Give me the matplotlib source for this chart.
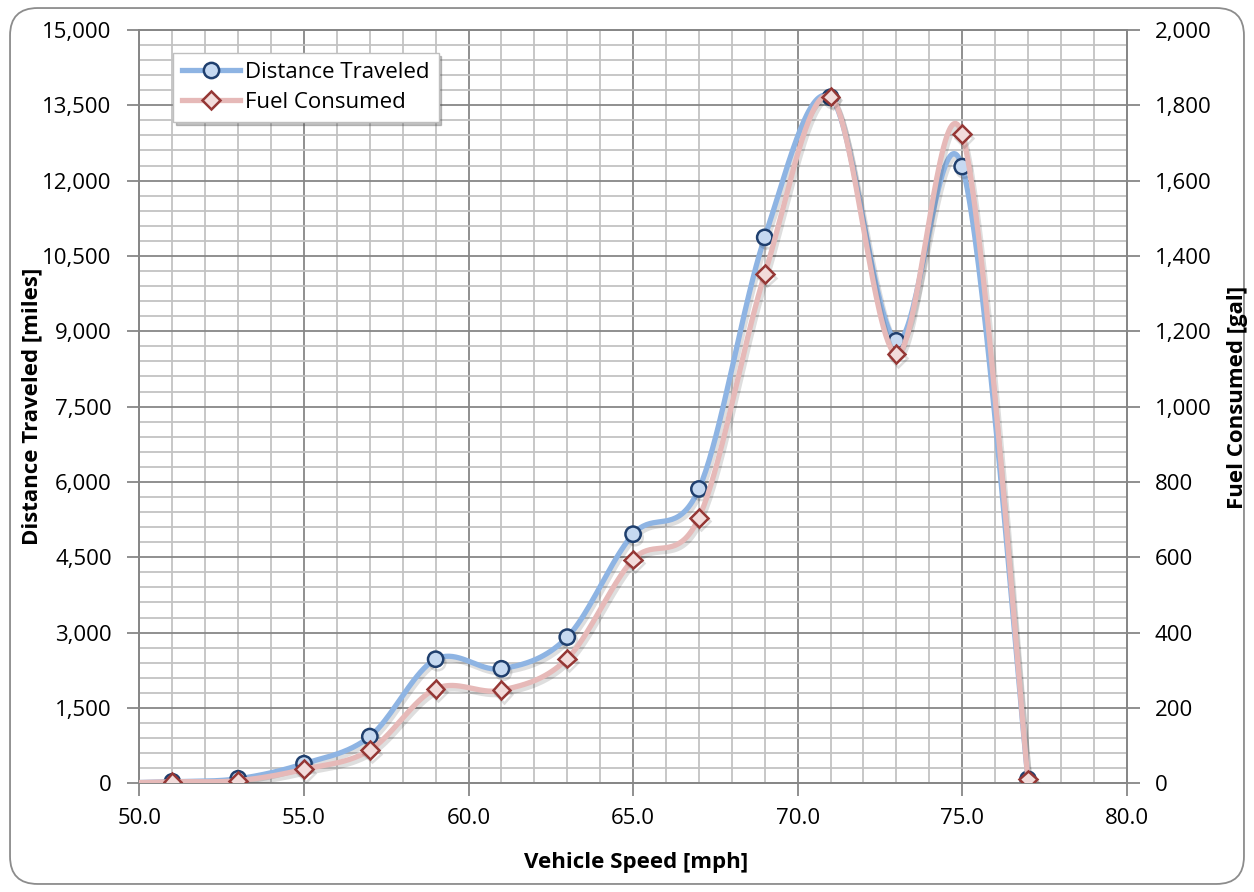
import numpy as np
import matplotlib
matplotlib.use("Agg")
import matplotlib.pyplot as plt
import matplotlib.patheffects as pe
from matplotlib.lines import Line2D
from matplotlib.patches import FancyBboxPatch
from matplotlib.ticker import MultipleLocator, FuncFormatter

plt.rcParams['font.family'] = ['Open Sans', 'DejaVu Sans']

# vehicle speed [mph]; the 49 mph point sits just outside the axis
speed = [49, 51, 53, 55, 57, 59, 61, 63, 65, 67, 69, 71, 73, 75, 77]
distance = [0, 30, 90, 390, 930, 2470, 2280, 2910, 4960, 5860, 10870, 13660, 8810, 12280, 80]
fuel = [0, 4, 7, 37, 88, 251, 247, 331, 594, 705, 1352, 1823, 1139, 1723, 10]

blue_line = '#8EB4E3'
blue_face = '#C6D9F1'
blue_edge = '#1F3F6E'
red_line = '#E6B9B8'
red_face = '#F2DCDB'
red_edge = '#953735'


def smooth(xs, ys, n=40):
    # bezier smoothing in the way Excel does its "smoothed line"
    p = np.column_stack((xs, ys)).astype(float)
    out = []
    t = np.linspace(0, 1, n)[:, None]
    for i in range(len(p) - 1):
        p0 = p[i - 1] if i > 0 else p[i]
        p1 = p[i]
        p2 = p[i + 1]
        p3 = p[i + 2] if i + 2 < len(p) else p[i + 1]
        c1 = p1 + (p2 - p0) / 6
        c2 = p2 - (p3 - p1) / 6
        seg = ((1 - t) ** 3) * p1 + 3 * ((1 - t) ** 2) * t * c1 + 3 * (1 - t) * t ** 2 * c2 + t ** 3 * p2
        out.append(seg if i == 0 else seg[1:])
    out = np.vstack(out)
    return out[:, 0], out[:, 1]


fig = plt.figure(figsize=(12.54, 8.92), dpi=100)
ax = fig.add_axes([0.1112, 0.1219, 0.7873, 0.8445])
ax2 = ax.twinx()

border = FancyBboxPatch((0.008, 0.009), 0.984, 0.982, boxstyle="round,pad=0,rounding_size=0.022",
                        transform=fig.transFigure, facecolor='none', edgecolor='#8C8C8C',
                        linewidth=1.3, mutation_aspect=1.4)
fig.patches.append(border)

shadow = [pe.SimpleLineShadow(offset=(1.5, -2.5), shadow_color='#000000', alpha=0.13), pe.Normal()]

sx, sy = smooth(speed, distance)
ax.plot(sx, sy, color=blue_line, lw=3.8, solid_capstyle='round', path_effects=shadow, zorder=3)
ax.plot(speed, distance, ls='none', marker='o', ms=11, mfc=blue_face, mec=blue_edge, mew=1.8,
        path_effects=shadow, zorder=4)

fx, fy = smooth(speed, fuel)
ax2.plot(fx, fy, color=red_line, lw=3.8, solid_capstyle='round', path_effects=shadow, zorder=3)
ax2.plot(speed, fuel, ls='none', marker='D', ms=9, mfc=red_face, mec=red_edge, mew=1.8,
         path_effects=shadow, zorder=4)

ax.set_xlim(50, 80)
ax.set_ylim(0, 15000)
ax2.set_ylim(0, 2000)

ax.xaxis.set_major_locator(MultipleLocator(5))
ax.xaxis.set_minor_locator(MultipleLocator(1))
ax.yaxis.set_major_locator(MultipleLocator(1500))
ax.yaxis.set_minor_locator(MultipleLocator(300))
ax2.yaxis.set_major_locator(MultipleLocator(200))

ax.xaxis.set_major_formatter(FuncFormatter(lambda v, p: f"{v:.1f}"))
ax.yaxis.set_major_formatter(FuncFormatter(lambda v, p: f"{v:,.0f}"))
ax2.yaxis.set_major_formatter(FuncFormatter(lambda v, p: f"{v:,.0f}"))

ax.grid(which='major', color='#878787', lw=1.3)
ax.grid(which='minor', color='#C3C3C3', lw=1.3)
ax.set_axisbelow(True)

for a in (ax, ax2):
    for s in a.spines.values():
        s.set_color('#878787')
        s.set_linewidth(1.3)
    a.tick_params(which='major', length=9, width=1.3, color='#878787', labelsize=16)
    a.tick_params(which='minor', length=0)
ax.tick_params(axis='y', pad=11)
ax2.tick_params(axis='y', pad=11)
ax.tick_params(axis='x', pad=9)

fig.text(0.5073, 0.0336, 'Vehicle Speed [mph]', ha='center', va='center', fontsize=16, fontweight='bold')
fig.text(0.0255, 0.544, 'Distance Traveled [miles]', ha='center', va='center', rotation=90,
         fontsize=16, fontweight='bold')
fig.text(0.987, 0.554, 'Fuel Consumed [gal]', ha='center', va='center', rotation=90,
         fontsize=16, fontweight='bold')

handles = [
    Line2D([], [], color=blue_line, lw=3.8, marker='o', ms=11, mfc=blue_face, mec=blue_edge, mew=1.8),
    Line2D([], [], color=red_line, lw=3.8, marker='D', ms=9, mfc=red_face, mec=red_edge, mew=1.8),
]
leg = ax2.legend(handles, ['Distance Traveled', 'Fuel Consumed'], loc='upper left',
                 bbox_to_anchor=(0.034, 0.969), borderaxespad=0, fontsize=16, fancybox=False,
                 shadow={'color': '#555555', 'alpha': 0.35}, framealpha=1, edgecolor='#BFBFBF',
                 handlelength=2.6, handletextpad=0.25, labelspacing=0.4, borderpad=0.4)

fig.savefig('out.png', dpi=100)
